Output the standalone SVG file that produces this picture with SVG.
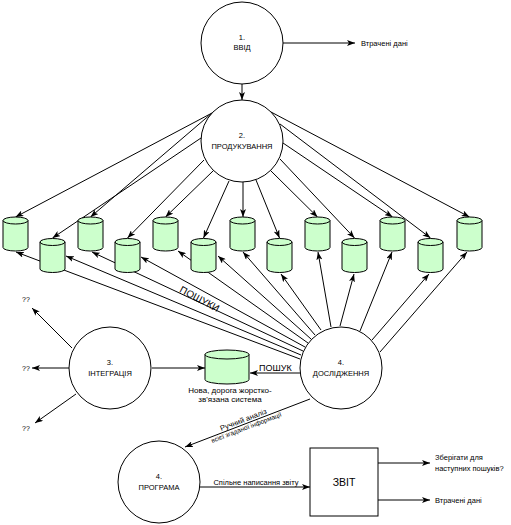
<svg xmlns="http://www.w3.org/2000/svg" xmlns:xlink="http://www.w3.org/1999/xlink" width="511" height="525" viewBox="0 0 511 525">
<style>
text{font-family:"Liberation Sans",Arial,sans-serif;fill:#000}
.c{fill:#fff;stroke:#000;stroke-width:1}
.cy{fill:#ccffcc;stroke:#000;stroke-width:1}
.cyt{fill:none;stroke:#000;stroke-width:1}
.e line,.e path{stroke:#000;stroke-width:1;fill:none;marker-end:url(#ah)}
.s{font-size:7.5px}
.m{text-anchor:middle}
</style>
<defs>
<marker id="ah" viewBox="0 0 8 6" refX="8" refY="3" markerWidth="8" markerHeight="6" markerUnits="userSpaceOnUse" orient="auto">
<path d="M0,0 L8,3 L0,6 L2,3 Z" fill="#000"/>
</marker>
<g id="cyl">
<path class="cy" d="M0,3.5 A12.5,3.5 0 0 1 25,3.5 V30.5 A12.5,3.5 0 0 1 0,30.5 Z"/>
<path class="cyt" d="M0,3.5 A12.5,3.5 0 0 0 25,3.5"/>
</g>
</defs>
<rect width="511" height="525" fill="#fff"/>

<g id="connectors" class="e">
<line x1="242" y1="84" x2="242" y2="100"/>
<line x1="283" y1="43" x2="355" y2="43"/>
<!-- produce -> stores -->
<line x1="212" y1="113" x2="15.5" y2="217"/>
<line x1="201" y1="138" x2="52.5" y2="238"/>
<line x1="212" y1="113" x2="90.5" y2="217"/>
<line x1="204" y1="160" x2="127.5" y2="238"/>
<line x1="213" y1="171" x2="165.5" y2="217"/>
<line x1="229" y1="181" x2="203.5" y2="238"/>
<line x1="243" y1="182" x2="243" y2="217"/>
<line x1="256" y1="180" x2="279.5" y2="238"/>
<line x1="271" y1="171" x2="317.5" y2="217"/>
<line x1="280" y1="159" x2="354.5" y2="238"/>
<line x1="283" y1="143" x2="392.5" y2="217"/>
<line x1="280" y1="124" x2="430.5" y2="238"/>
<line x1="271" y1="112" x2="469.5" y2="217"/>
<!-- research -> stores -->
<line x1="300" y1="359" x2="16" y2="252"/>
<line x1="301" y1="355" x2="66" y2="256"/>
<line x1="303" y1="351" x2="92" y2="252"/>
<line x1="305" y1="347" x2="141" y2="257"/>
<line x1="308" y1="343" x2="178" y2="251"/>
<line x1="311" y1="339" x2="218" y2="256"/>
<line x1="315" y1="335" x2="243" y2="252"/>
<line x1="321" y1="330" x2="281" y2="274"/>
<line x1="331" y1="327" x2="318" y2="252"/>
<line x1="340" y1="326" x2="354" y2="274"/>
<line x1="360" y1="331" x2="392" y2="252"/>
<line x1="372" y1="340" x2="429" y2="274"/>
<line x1="380" y1="352" x2="467" y2="252"/>
<!-- integration -->
<line x1="72" y1="348" x2="32" y2="308"/>
<line x1="69" y1="368" x2="32" y2="368"/>
<line x1="76" y1="394" x2="35" y2="423"/>
<line x1="152" y1="368" x2="205" y2="368"/>
<line x1="300" y1="373" x2="250" y2="373"/>
<!-- to program -->
<line x1="310" y1="399" x2="185" y2="447"/>
<line x1="200" y1="487" x2="310" y2="487"/>
<line x1="378" y1="463" x2="430" y2="463"/>
<line x1="378" y1="500" x2="430" y2="500"/>
</g>

<g id="n1">
<circle class="c" cx="242" cy="43" r="41"/>
<text class="s m" x="242" y="40">1.</text>
<text class="s m" x="242" y="50">ВВІД</text>
</g>
<g id="lost1"><text class="s" x="361" y="46">Втрачені дані</text></g>

<g id="n2">
<circle class="c" cx="242" cy="141" r="41"/>
<text class="s m" x="242" y="138">2.</text>
<text class="s m" x="242" y="149">ПРОДУКУВАННЯ</text>
</g>

<g id="stores">
<use xlink:href="#cyl" x="3" y="217"/>
<use xlink:href="#cyl" x="40" y="238.5"/>
<use xlink:href="#cyl" x="78" y="217"/>
<use xlink:href="#cyl" x="115" y="238.5"/>
<use xlink:href="#cyl" x="153" y="217"/>
<use xlink:href="#cyl" x="191" y="238.5"/>
<use xlink:href="#cyl" x="230" y="217"/>
<use xlink:href="#cyl" x="267" y="238.5"/>
<use xlink:href="#cyl" x="305" y="217"/>
<use xlink:href="#cyl" x="342" y="238.5"/>
<use xlink:href="#cyl" x="380" y="217"/>
<use xlink:href="#cyl" x="418" y="238.5"/>
<use xlink:href="#cyl" x="457" y="217"/>
</g>

<g id="lbl-poshuky"><text x="0" y="0" font-size="10" class="m" transform="translate(198,302) rotate(28)">ПОШУКИ</text></g>

<g id="n3">
<circle class="c" cx="110" cy="368" r="41"/>
<text class="s m" x="110" y="365">3.</text>
<text class="s m" x="110" y="376">ІНТЕГРАЦІЯ</text>
</g>
<g id="q1"><text font-size="7" x="22" y="302">??</text></g>
<g id="q2"><text font-size="7" x="22" y="371">??</text></g>
<g id="q3"><text font-size="7" x="22" y="431">??</text></g>

<g id="newsys">
<path class="cy" d="M205,354.5 A22,4.5 0 0 1 249,354.5 V379.5 A22,4.5 0 0 1 205,379.5 Z"/>
<path class="cyt" d="M205,354.5 A22,4.5 0 0 0 249,354.5"/>
<text font-size="8" class="m" x="230" y="393">Нова, дорога жорстко-</text>
<text font-size="8" class="m" x="230" y="402">зв'язана система</text>
</g>
<g id="lbl-poshuk"><text font-size="9" x="259" y="371">ПОШУК</text></g>

<g id="n4">
<circle class="c" cx="341" cy="368" r="41"/>
<text class="s m" x="341" y="365">4.</text>
<text class="s m" x="341" y="376">ДОСЛІДЖЕННЯ</text>
</g>

<g id="lbl-manual" transform="translate(245,424) rotate(-21)">
<text font-size="7.5" class="m" x="0" y="-2">Ручний аналіз</text>
<text font-size="6.5" class="m" x="0" y="6">всієї згаданої інформації</text>
</g>

<g id="n5">
<circle class="c" cx="159" cy="482" r="41"/>
<text class="s m" x="159" y="479">4.</text>
<text class="s m" x="159" y="490">ПРОГРАМА</text>
</g>
<g id="lbl-joint"><text class="s m" x="256" y="485">Спільне написання звіту</text></g>

<g id="report">
<rect x="310" y="448" width="68" height="68" fill="#fff" stroke="#000"/>
<text font-size="10.5" class="m" x="344" y="486">ЗВІТ</text>
</g>
<g id="save"><text class="s" x="435" y="460">Зберігати для</text><text class="s" x="435" y="471">наступних пошуків?</text></g>
<g id="lost2"><text class="s" x="435" y="503">Втрачені дані</text></g>
</svg>
